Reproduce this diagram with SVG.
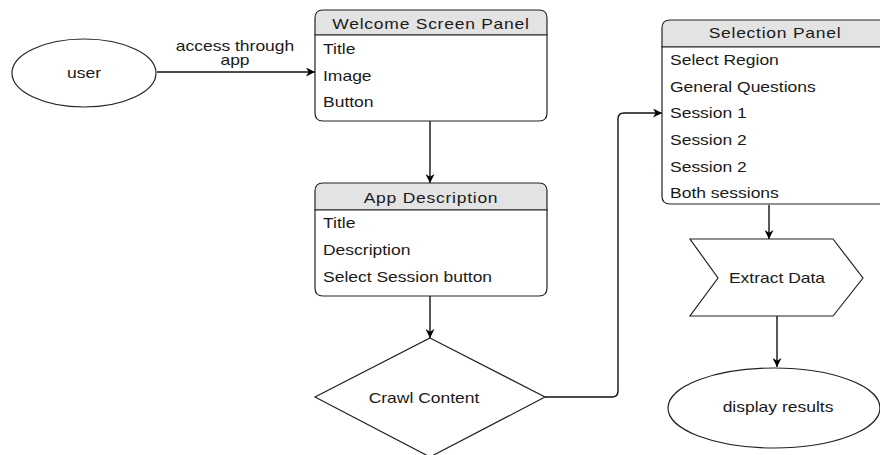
<svg xmlns="http://www.w3.org/2000/svg" width="880" height="455" viewBox="0 0 880 455">
  <defs>
    <marker id="arr" viewBox="0 0 10 10" refX="10" refY="5" markerWidth="11" markerHeight="9" markerUnits="userSpaceOnUse" orient="auto">
      <path d="M0,0 L10,5 L0,10 L3,5 Z" fill="#000"/>
    </marker>
    <style>
      text { font-family: "Liberation Sans", Arial, sans-serif; font-size: 14px; fill: #1a1a1a; }
      .hd { letter-spacing: 0.6px; text-anchor: middle; }
      .mid { text-anchor: middle; }
      .shape { fill: #fff; stroke: #222; stroke-width: 1.2; }
      .head { fill: #e3e3e3; stroke: #222; stroke-width: 1.2; }
      .edge { fill: none; stroke: #111; stroke-width: 1.4; marker-end: url(#arr); }
    </style>
  </defs>
  <rect width="880" height="455" fill="#fff"/>

  <g id="connectors">
    <path class="edge" d="M157,72 H315"/>
    <path class="edge" d="M430,121 V183"/>
    <path class="edge" d="M430,296 V338"/>
    <path class="edge" d="M545,397 H612 Q618,397 618,391 V119 Q618,113 624,113 H662"/>
    <path class="edge" d="M769,205 V239"/>
    <path class="edge" d="M777,316 V367"/>
    <text class="mid" transform="matrix(1.25 0 0 1 235 51)">access through</text>
    <text class="mid" transform="matrix(1.25 0 0 1 235 65)">app</text>
  </g>

  <g id="user">
    <ellipse class="shape" cx="84" cy="73" rx="72" ry="34"/>
    <text class="mid" transform="matrix(1.25 0 0 1 84 78)">user</text>
  </g>

  <g id="welcome">
    <path class="head" d="M315,35 V18 Q315,10 323,10 H539 Q547,10 547,18 V35 Z"/>
    <path class="shape" d="M315,35 H547 V113 Q547,121 539,121 H323 Q315,121 315,113 Z"/>
    <text class="hd" transform="matrix(1.25 0 0 1 431 29)">Welcome Screen Panel</text>
    <text transform="matrix(1.25 0 0 1 323 54)">Title</text>
    <text transform="matrix(1.25 0 0 1 323 81)">Image</text>
    <text transform="matrix(1.25 0 0 1 323 107)">Button</text>
  </g>

  <g id="appdesc">
    <path class="head" d="M315,210 V191 Q315,183 323,183 H539 Q547,183 547,191 V210 Z"/>
    <path class="shape" d="M315,210 H547 V288 Q547,296 539,296 H323 Q315,296 315,288 Z"/>
    <text class="hd" transform="matrix(1.25 0 0 1 431 203)">App Description</text>
    <text transform="matrix(1.25 0 0 1 323 228)">Title</text>
    <text transform="matrix(1.25 0 0 1 323 255)">Description</text>
    <text transform="matrix(1.25 0 0 1 323 282)">Select Session button</text>
  </g>

  <g id="crawl">
    <polygon class="shape" points="430,338 545,397 430,457 315,397"/>
    <text class="mid" transform="matrix(1.25 0 0 1 424 403)">Crawl Content</text>
  </g>

  <g id="selection">
    <path class="head" d="M662,47 V28 Q662,20 670,20 H880 Q888,20 888,28 V47 Z"/>
    <path class="shape" d="M662,47 H888 V196 Q888,204 880,204 H670 Q662,204 662,196 Z"/>
    <text class="hd" transform="matrix(1.25 0 0 1 775 38)">Selection Panel</text>
    <text transform="matrix(1.25 0 0 1 670 65)">Select Region</text>
    <text transform="matrix(1.25 0 0 1 670 92)">General Questions</text>
    <text transform="matrix(1.25 0 0 1 670 118)">Session 1</text>
    <text transform="matrix(1.25 0 0 1 670 145)">Session 2</text>
    <text transform="matrix(1.25 0 0 1 670 172)">Session 2</text>
    <text transform="matrix(1.25 0 0 1 670 198)">Both sessions</text>
  </g>

  <g id="extract">
    <polygon class="shape" points="690,239 833,239 863,278 833,316 690,316 718,278"/>
    <text class="mid" transform="matrix(1.25 0 0 1 777 283)">Extract Data</text>
  </g>

  <g id="display">
    <ellipse class="shape" cx="774" cy="408" rx="106" ry="40"/>
    <text class="mid" transform="matrix(1.25 0 0 1 778 412)">display results</text>
  </g>
</svg>
